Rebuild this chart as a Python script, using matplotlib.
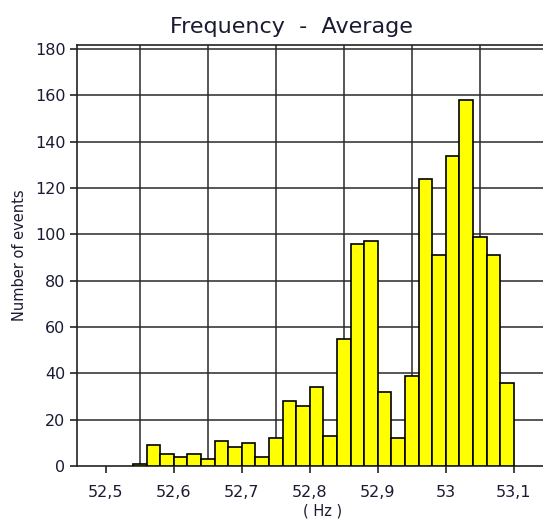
import numpy as np
import matplotlib
matplotlib.use("Agg")
import matplotlib.pyplot as plt

# Data
bin_start = 52.54
bin_width = 0.02
counts = [1, 9, 5, 4, 5, 3, 11, 8, 10, 4, 12, 28, 26, 34, 13, 55, 96, 97, 32, 12,
          39, 124, 91, 134, 158, 99, 91, 36]
x_ticks = [52.5, 52.6, 52.7, 52.8, 52.9, 53.0, 53.1]
x_ticklabels = ["52,5", "52,6", "52,7", "52,8", "52,9", "53", "53,1"]
y_ticks = [0, 20, 40, 60, 80, 100, 120, 140, 160, 180]
x_grid = [52.55, 52.65, 52.75, 52.85, 52.95, 53.05]

W, H = 543, 521
fig = plt.figure(figsize=(W / 100, H / 100), dpi=100)
ax = fig.add_axes([76.7 / W, 55 / H, (543 - 76.7) / W, (466 - 45) / H])

lefts = bin_start + bin_width * np.arange(len(counts))
ax.bar(lefts, counts, width=bin_width, align="edge", color="#FFFF00",
       edgecolor="black", linewidth=1.2, zorder=3)

ax.set_xlim(52.457, 53.143)
ax.set_ylim(0, 181.7)

for g in x_grid:
    ax.axvline(g, color="#2a2a2a", linewidth=1.1, zorder=1)
for yt in y_ticks[1:]:
    ax.axhline(yt, color="#2a2a2a", linewidth=1.1, zorder=1)

ax.set_xticks(x_ticks)
ax.set_xticklabels(x_ticklabels)
ax.set_yticks(y_ticks)
ax.tick_params(axis="both", direction="out", length=5, width=1.2, color="#222222",
               labelsize=11.5, labelcolor="#1a1a33", pad=3)
ax.tick_params(axis="x", pad=9)

for side in ["left", "bottom", "top"]:
    ax.spines[side].set_color("#222222")
    ax.spines[side].set_linewidth(1.2)
ax.spines["right"].set_visible(False)

fig.text(291.5 / W, 1 - 26.6 / H, "Frequency  -  Average", ha="center", va="center",
         fontsize=16, color="#1a1a33")
fig.text(20 / W, 1 - 255 / H, "Number of events", ha="center", va="center",
         rotation=90, fontsize=10.5, color="#1a1a33")
fig.text(323 / W, 1 - 511 / H, "( Hz )", ha="center", va="center",
         fontsize=10.5, color="#1a1a33")

fig.savefig("out.png", dpi=100)
